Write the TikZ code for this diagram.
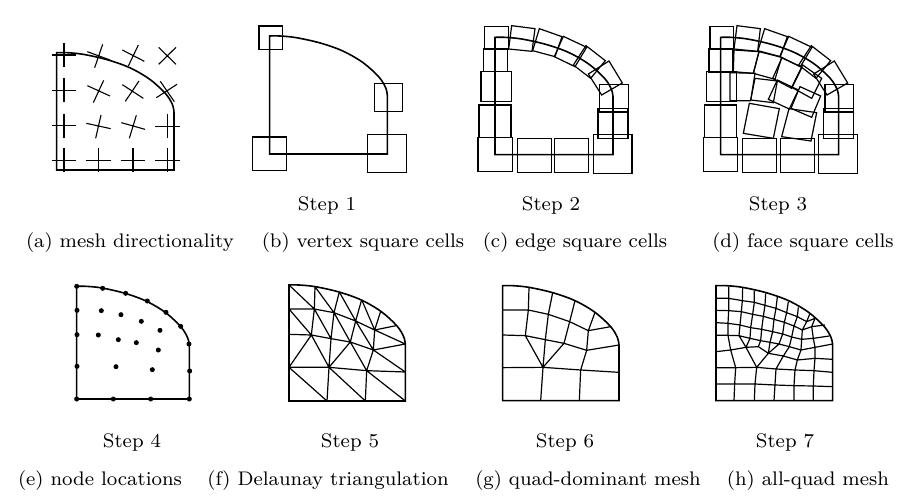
\documentclass[tikz,border=0pt]{standalone}
\tikzset{
  outl/.style={line width=1.6pt,line join=miter},
  sq/.style={line width=1.2pt},
  mesh/.style={line width=1.2pt,line join=round},
  crossln/.style={line width=1.1pt},
  lbl/.style={inner sep=0pt,scale=2.46,font=\fontsize{8}{10}\selectfont,anchor=base}
}
\newcommand{\dom}[4]{% left, top, width, height in crop units
  \begin{scope}[shift={(#1,#2)},xscale=#3/349]
  \draw[outl] plot[smooth,tension=.55] coordinates {(0,0)(30,0)(79,5)(150,21)(217,45)(277,80)(324,123)(344,155)(349,178)} -- (349,#4) -- (0,#4) -- cycle;
  \end{scope}}
\newcommand{\rect}[4]{\draw[sq] (#1,#2) rectangle (#3,#4);}
\newcommand{\quadr}[8]{\draw[sq] (#1,#2) -- (#3,#4) -- (#5,#6) -- (#7,#8) -- cycle;}
\newcommand{\crs}[8]{\draw[crossln] (#1,#2) -- (#3,#4) (#5,#6) -- (#7,#8);}
\newcommand{\pcrs}[2]{\draw[crossln] (#1-37,#2) -- (#1+37,#2) (#1,#2-36) -- (#1,#2+36);}
\newcommand{\edges}[1]{\draw[mesh] #1;}
\begin{document}
\begin{tikzpicture}[x=1pt,y=-1pt]
\useasboundingbox (0,0) rectangle (922,503);
% (a)
\begin{scope}[shift={(30,10)},scale=1/3]
\dom{80}{128}{352}{352}
\pcrs{102}{135}\pcrs{102}{241}\pcrs{102}{347}\pcrs{102}{451}
\pcrs{205}{451}\pcrs{309}{451}\pcrs{412}{451}\pcrs{412}{349}
\crs{172}{125}{240}{150}{218}{103}{194}{173}
\crs{277}{120}{343}{154}{325}{105}{295}{168}
\crs{386}{112}{438}{163}{438}{112}{386}{163}
\crs{172}{227}{240}{258}{221}{211}{190}{278}
\crs{277}{224}{340}{265}{327}{213}{286}{274}
\crs{391}{214}{433}{275}{441}{223}{379}{263}
\crs{169}{340}{242}{356}{213}{315}{197}{385}
\crs{274}{338}{345}{358}{319}{316}{298}{385}
\end{scope}
% (b)
\begin{scope}[shift={(240,10)},scale=1/3]
\dom{89}{78}{353}{354}
\rect{57}{48}{128}{118}\rect{404}{221}{487}{305}\rect{38}{381}{139}{482}\rect{383}{373}{499}{487}
\end{scope}
% (c)
\begin{scope}[shift={(460,10)},scale=1/3]
\dom{105}{82}{354}{352}
\rect{74}{50}{145}{118}\rect{71}{115}{143}{185}\rect{63}{185}{154}{274}\rect{57}{285}{153}{382}\rect{54}{382}{157}{484}
\rect{172}{386}{274}{487}\rect{284}{386}{386}{487}\rect{400}{374}{516}{490}\rect{414}{296}{504}{386}\rect{419}{224}{505}{306}
\quadr{155}{47}{225}{56}{216}{124}{146}{117}
\quadr{238}{56}{306}{80}{285}{140}{218}{122}
\quadr{310}{79}{380}{112}{345}{170}{283}{140}
\quadr{378}{107}{436}{152}{392}{205}{340}{165}
\quadr{447}{153}{487}{219}{425}{255}{385}{192}
\end{scope}
% (d)
\begin{scope}[shift={(690,10)},scale=1/3]
\dom{92}{82}{354}{352}
\rect{60}{50}{130}{118}\rect{57}{115}{129}{186}\rect{49}{185}{139}{274}\rect{43}{285}{139}{382}\rect{41}{382}{143}{484}
\rect{158}{386}{260}{487}\rect{271}{386}{373}{487}\rect{386}{374}{502}{490}\rect{400}{296}{491}{386}\rect{405}{224}{491}{306}
\quadr{141}{47}{211}{56}{203}{124}{132}{117}
\quadr{224}{56}{292}{80}{271}{140}{204}{122}
\quadr{296}{79}{366}{112}{331}{170}{269}{140}
\quadr{364}{107}{422}{152}{378}{205}{326}{165}
\quadr{433}{153}{473}{219}{411}{255}{371}{192}
\quadr{132}{120}{207}{125}{190}{190}{130}{185}
\quadr{207}{125}{275}{142}{255}{208}{190}{190}
\quadr{276}{143}{336}{172}{305}{235}{248}{205}
\quadr{338}{165}{395}{205}{365}{265}{305}{232}
\quadr{120}{188}{195}{190}{182}{272}{120}{272}
\quadr{195}{205}{262}{213}{250}{278}{182}{270}
\quadr{262}{210}{325}{240}{298}{297}{235}{268}
\quadr{330}{230}{392}{258}{365}{322}{303}{295}
\quadr{178}{280}{268}{296}{250}{385}{160}{370}
\quadr{297}{296}{380}{308}{363}{393}{275}{380}
\end{scope}
% (e)
\begin{scope}[shift={(50,270)},scale=1/3]
\dom{80}{49}{338}{338}
\foreach \p in {(80,49),(158,55),(227,70),(292,93),(348,127),(392,169),(417,222),(419,303),(418,387),(302,387),(190,387),(80,387),(81,289),(81,194),(81,121),(154,122),(213,134),(274,154),(330,181),(145,195),(205,209),(259,218),(325,240),(198,290),(307,299)}
  \fill \p circle (7.5);
\end{scope}
% (f)
\begin{scope}[shift={(270,270)},scale=1/3]
\dom{57}{45}{349}{348}
\coordinate (ta) at (135,50); \coordinate (tb) at (208,66); \coordinate (tc) at (275,89);
\coordinate (td) at (332,124); \coordinate (te) at (378,167); \coordinate (r1) at (406,222);
\coordinate (r2) at (406,306); \coordinate (r3) at (406,393); \coordinate (b1) at (286,393);
\coordinate (b2) at (171,393); \coordinate (l1) at (57,292); \coordinate (l2) at (57,193);
\coordinate (l3) at (57,117); \coordinate (c0) at (57,45);
\coordinate (a) at (133,117); \coordinate (b) at (192,128); \coordinate (c) at (257,153);
\coordinate (d) at (314,180); \coordinate (e) at (124,195); \coordinate (f) at (183,206);
\coordinate (g) at (241,216); \coordinate (h) at (310,240); \coordinate (i) at (177,292);
\coordinate (j) at (290,302);
\edges{(c0)--(a) (ta)--(a) (ta)--(b) (tb)--(b) (tb)--(c) (tc)--(c) (tc)--(d) (td)--(d) (te)--(d)
 (l3)--(a)--(b)--(c)--(d) (l3)--(e) (a)--(e) (a)--(f) (b)--(f) (b)--(g) (c)--(g) (c)--(h) (d)--(h)
 (d)--(r1) (h)--(r1) (l2)--(e)--(f)--(g)--(h) (e)--(l1) (e)--(i) (f)--(i) (g)--(i) (g)--(j) (h)--(j)
 (h)--(r2) (l1)--(i)--(j)--(r2) (l1)--(b2) (i)--(b2) (i)--(b1) (j)--(b1) (j)--(r3)}
\end{scope}
% (g)
\begin{scope}[shift={(485,270)},scale=1/3]
\dom{53}{47}{349}{345}
\edges{(53,120)--(130,120)--(190,133)--(254,155)--(310,182)--(377,170)
 (132,53)--(130,120)--(121,197) (203,68)--(190,133)--(181,209)--(174,292)
 (270,92)--(254,155)--(237,220) (330,127)--(310,182)--(305,241)--(287,300)--(283,392)
 (53,195)--(121,197)--(181,209)--(237,220)--(305,241)--(402,225)
 (121,197)--(174,292) (237,220)--(174,292) (53,293)--(174,292)--(287,300)--(402,307) (174,292)--(167,392)}
\end{scope}
% (h)
\begin{scope}[shift={(700,270)},scale=1/3]
\dom{48}{47}{350}{345}
\edges{
 (48,85)--(86,85)--(127,92)--(163,97)--(195,106)--(228,115)--(260,128)--(292,140)--(320,155)--(345,145)
 (48,121)--(86,122)--(124,125)--(158,133)--(190,139)--(222,148)--(253,157)--(282,168)--(307,180)--(335,170)--(375,165)
 (48,158)--(84,160)--(120,165)--(152,173)--(185,178)--(218,185)--(248,192)--(275,201)--(305,208)--(340,205)--(388,198)
 (48,196)--(84,196)--(117,197)--(150,205)--(182,212)--(210,217)--(237,222)--(268,230)--(303,240)--(345,232)--(398,222)
 (48,245)--(92,240)--(138,232)--(175,230)--(205,250)--(250,258)--(292,270)--(345,265)--(398,268)
 (48,293)--(107,293)--(170,292)--(228,297)--(285,300)--(342,302)--(398,307)
 (48,342)--(104,342)--(165,342)--(225,345)--(282,347)--(340,348)--(398,350)
 (86,50)--(86,85)--(86,122)--(84,160)--(84,196)--(92,240)--(107,293)--(104,342)--(102,392)
 (128,54)--(127,92)--(124,125)--(120,165)--(117,197)--(138,232)--(170,292)--(165,342)--(163,392)
 (163,62)--(163,97)--(158,133)--(152,173)--(150,205)--(138,232)
 (197,70)--(195,106)--(190,139)--(185,178)--(182,212)--(175,230)
 (232,81)--(228,115)--(222,148)--(218,185)--(210,217)--(205,250)--(170,292)
 (265,95)--(260,128)--(253,157)--(248,192)--(237,222)--(205,250)
 (295,112)--(292,140)--(282,168)--(275,201)--(268,230)--(250,258)--(228,297)--(225,345)--(222,392)
 (330,130)--(320,155)--(307,180)--(305,208)--(303,240)--(292,270)--(285,300)--(282,347)--(282,392)
 (345,145)--(335,170)--(340,205)--(345,232)--(345,265)--(342,302)--(340,348)--(340,392)}
\end{scope}
% labels
\node[lbl] (s1) at (327,210) {Step 1};
\node[lbl] (s2) at (551,210) {Step 2};
\node[lbl] (s3) at (778,210) {Step 3};
\node[lbl] (ca) at (130,247) {(a) mesh directionality};
\node[lbl] (cb) at (363,247) {(b) vertex square cells};
\node[lbl] (cc) at (575,247) {(c) edge square cells};
\node[lbl] (cd) at (803,247) {(d) face square cells};
\node[lbl] (s4) at (132,447) {Step 4};
\node[lbl] (s5) at (350,447) {Step 5};
\node[lbl] (s6) at (565,447) {Step 6};
\node[lbl] (s7) at (785,447) {Step 7};
\node[lbl] (ce) at (100,485) {(e) node locations};
\node[lbl] (cf) at (328,485) {(f) Delaunay triangulation};
\node[lbl] (cg) at (588,485) {(g) quad-dominant mesh};
\node[lbl] (ch) at (808,485) {(h) all-quad mesh};
\end{tikzpicture}
\end{document}
